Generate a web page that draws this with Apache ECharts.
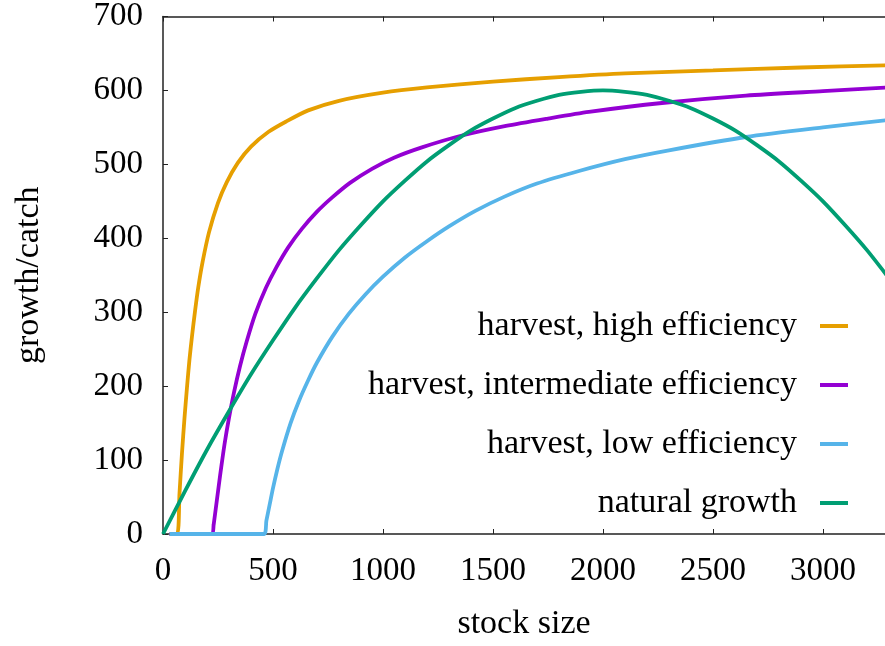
<!DOCTYPE html>
<html>
<head>
<meta charset="utf-8">
<script src="https://cdn.jsdelivr.net/npm/echarts@6/dist/echarts.min.js"></script>
<style>
html,body{margin:0;padding:0;background:#fff;}
#chart{width:885px;height:646px;}
</style>
</head>
<body>
<div id="chart"></div>
<script>
// ---- data ----
const seriesNames = ['harvest, high efficiency', 'harvest, intermediate efficiency', 'harvest, low efficiency', 'natural growth'];
const seriesColors = ['#E69F00', '#9400D3', '#56B4E9', '#009E73'];

const stockHigh = [30, 64, 75, 86, 98, 109, 120, 132, 145, 160, 180, 209, 250, 290, 340, 400, 480, 560, 660, 800, 1000, 1200, 1500, 1800, 2100, 2500, 2900, 3300];
const catchHigh = [0, 0, 55, 108, 158, 198, 235, 268, 300, 333, 368, 408, 448, 476, 502, 524, 544, 558, 573, 586, 597, 604, 612, 618, 623, 627, 631, 634];

const stockMid = [30, 223, 230, 245, 260, 280, 300, 323, 350, 380, 420, 468, 514, 570, 632, 700, 768, 850, 950, 1050, 1177, 1359, 1559, 1750, 1936, 2268, 2650, 3000, 3300];
const catchMid = [0, 0, 12, 46, 80, 122, 157, 192, 227, 260, 298, 333, 360, 388, 413, 436, 455, 475, 494, 509, 523, 539, 552, 562, 571, 583, 593, 599, 604];

const stockLow = [30, 459, 470, 485, 500, 520, 541, 580, 618, 660, 700, 770, 845, 920, 1000, 1100, 1200, 1300, 1420, 1550, 1700, 1891, 2100, 2300, 2650, 3000, 3300];
const catchLow = [0, 0, 18, 40, 62, 88, 112, 150, 180, 208, 232, 267, 298, 324, 348, 374, 396, 416, 437, 456, 474, 491, 507, 519, 537, 550, 560];

const stockGrowth = [0, 100, 200, 300, 400, 500, 600, 700, 800, 900, 1000, 1100, 1200, 1300, 1400, 1500, 1600, 1700, 1800, 1900, 2000, 2100, 2200, 2300, 2400, 2500, 2600, 2700, 2800, 2900, 3000, 3100, 3200, 3300];
const growthValues = [0, 58, 114, 166, 216, 262, 306, 346, 384, 418, 450, 478, 504, 526, 546, 562, 576, 586, 594, 598, 600, 598, 594, 586, 576, 562, 546, 526, 504, 478, 450, 418, 384, 346];

const xTicks = [0, 500, 1000, 1500, 2000, 2500, 3000];
const yTicks = [0, 100, 200, 300, 400, 500, 600, 700];

const xTitle = 'stock size';
const yTitle = 'growth/catch';

// ---- chart ----
const FONT = "'Liberation Serif', 'DejaVu Serif', serif";
const FS = 34;
const FSN = 33;
const AXC = '#222';

const pairs = (xs, ys) => xs.map((x, i) => [x, ys[i]]);
const allData = [
  pairs(stockHigh, catchHigh),
  pairs(stockMid, catchMid),
  pairs(stockLow, catchLow),
  pairs(stockGrowth, growthValues)
];

const legendCenters = [326, 385, 444, 503];

const chart = echarts.init(document.getElementById('chart'), null, {renderer: 'canvas'});

const baseX = {
  type: 'value',
  min: xTicks[0],
  max: 3282,
  interval: 500,
  axisLine: {show: true, onZero: false, lineStyle: {color: AXC, width: 1.5}},
  axisTick: {show: true, inside: true, length: 5, lineStyle: {color: AXC, width: 1}},
  splitLine: {show: false}
};

const option = {
  backgroundColor: '#fff',
  animation: false,
  grid: {left: 163, right: 0, top: 13, bottom: 106, containLabel: false},
  xAxis: [
    Object.assign({}, baseX, {
      position: 'bottom',
      name: xTitle,
      nameLocation: 'middle',
      nameGap: 73,
      nameTextStyle: {fontFamily: FONT, fontSize: FS, color: '#000'},
      axisLabel: {
        show: true, margin: 21, showMaxLabel: false,
        fontFamily: FONT, fontSize: FSN, color: '#000',
        formatter: v => (xTicks.indexOf(v) >= 0 ? String(v) : '')
      }
    }),
    Object.assign({}, baseX, {
      position: 'top',
      axisLabel: {show: false}
    })
  ],
  yAxis: {
    type: 'value',
    min: yTicks[0],
    max: yTicks[yTicks.length - 1],
    interval: 100,
    name: yTitle,
    nameLocation: 'middle',
    nameGap: 117,
    nameRotate: 90,
    nameTextStyle: {fontFamily: FONT, fontSize: FS, color: '#000'},
    axisLine: {show: true, lineStyle: {color: AXC, width: 1.5}},
    axisTick: {show: true, inside: true, length: 5, lineStyle: {color: AXC, width: 1}},
    axisLabel: {margin: 20, fontFamily: FONT, fontSize: FSN, color: '#000'},
    splitLine: {show: false}
  },
  legend: seriesNames.map((n, i) => ({
    data: [n],
    orient: 'vertical',
    align: 'right',
    right: 37,
    top: legendCenters[i] - 17,
    itemWidth: 28,
    itemHeight: 4,
    icon: 'rect',
    selectedMode: false,
    padding: 0,
    textStyle: {fontFamily: FONT, fontSize: FS, color: '#000', lineHeight: 34, padding: [0, 18, 0, 0]}
  })),
  series: seriesNames.map((n, i) => ({
    name: n,
    type: 'line',
    data: allData[i],
    showSymbol: false,
    symbol: 'none',
    smooth: 0.25,
    clip: true,
    lineStyle: {color: seriesColors[i], width: 3.8},
    itemStyle: {color: seriesColors[i]},
    z: 2 + i
  }))
};

chart.setOption(option);
</script>
</body>
</html>
